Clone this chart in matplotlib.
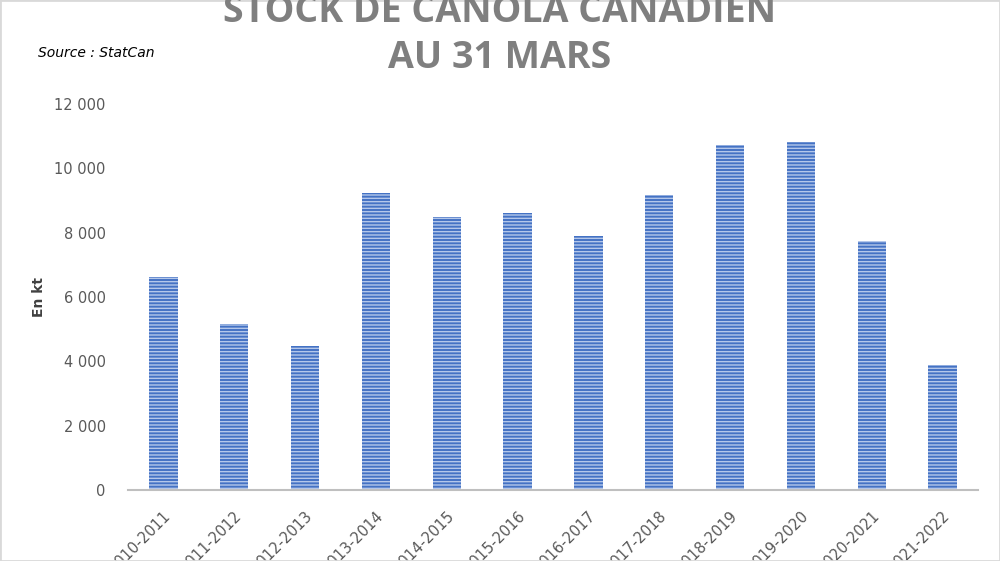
import matplotlib.pyplot as plt
from matplotlib.patches import Rectangle
from matplotlib.ticker import FuncFormatter

plt.rcParams["hatch.linewidth"] = 1.0

seasons = [
    "2010-2011", "2011-2012", "2012-2013", "2013-2014", "2014-2015",
    "2015-2016", "2016-2017", "2017-2018", "2018-2019", "2019-2020",
    "2020-2021", "2021-2022",
]
stocks_kt = [6620, 5160, 4480, 9230, 8490, 8610, 7900, 9170, 10720, 10820, 7740, 3890]
y_ticks = [0, 2000, 4000, 6000, 8000, 10000, 12000]

fig = plt.figure(figsize=(10, 5.61), dpi=100)
ax = fig.add_axes([0.128, 0.1266, 0.85, 0.688])

x = range(len(seasons))
ax.bar(
    x,
    stocks_kt,
    width=0.4,
    color="#4472C4",
    edgecolor="#b4c7ea",
    linewidth=0,
    hatch="-----",
)

ax.set_xlim(-0.5, len(seasons) - 0.5)
ax.set_ylim(0, 12000)
ax.set_yticks(y_ticks)
ax.yaxis.set_major_formatter(
    FuncFormatter(lambda v, _: f"{int(v):,}".replace(",", " "))
)

ax.set_xticks(list(x))
ax.set_xticklabels(
    seasons,
    rotation=45,
    ha="right",
    va="top",
    rotation_mode="anchor",
)

for side in ["top", "right", "left"]:
    ax.spines[side].set_visible(False)
ax.spines["bottom"].set_color("#bfbfbf")
ax.spines["bottom"].set_linewidth(1.5)

ax.tick_params(axis="both", length=0, labelsize=10.5, labelcolor="#595959")
ax.tick_params(axis="y", pad=16)
ax.tick_params(axis="x", pad=13)

ax.set_ylabel("En kt", fontsize=10, fontweight="bold", color="#404040", labelpad=6)

# two-line title, first line partly cut at the top like the original
fig.text(
    0.5, 0.961, "STOCK DE CANOLA CANADIEN",
    ha="center", va="baseline", fontsize=27, fontweight="bold",
    color="#7f7f7f", family="Open Sans",
)
fig.text(
    0.5, 0.879, "AU 31 MARS",
    ha="center", va="baseline", fontsize=27, fontweight="bold",
    color="#7f7f7f", family="Open Sans",
)
fig.text(
    0.038, 0.905, "Source : StatCan",
    ha="left", va="center", fontsize=10, style="italic", color="black",
)

fig.patches.append(
    Rectangle((0, 0), 1, 1, transform=fig.transFigure, fill=False,
              edgecolor="#d9d9d9", linewidth=2)
)

fig.savefig("out.png", dpi=100)
